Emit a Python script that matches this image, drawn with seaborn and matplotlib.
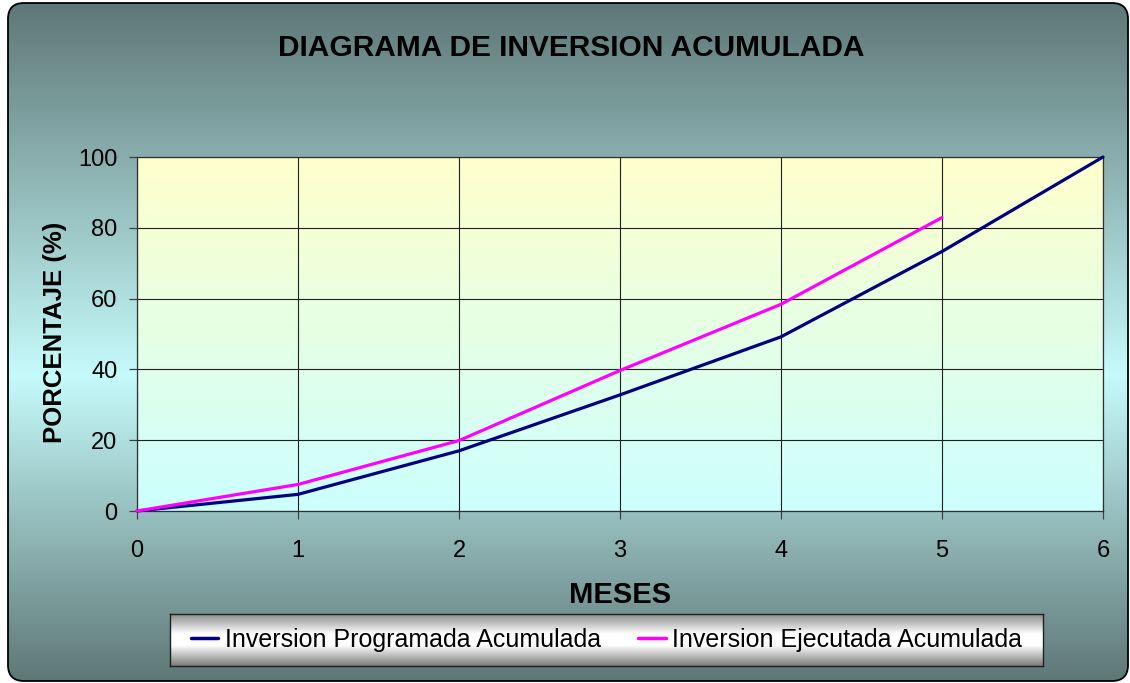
import matplotlib
matplotlib.use("Agg")
import matplotlib.pyplot as plt
import numpy as np
import pandas as pd
import seaborn as sns
from matplotlib.colors import LinearSegmentedColormap
from matplotlib.patches import FancyBboxPatch

# Datos
MESES = [0, 1, 2, 3, 4, 5, 6]
PROGRAMADA = [0.0, 4.7, 17.0, 32.8, 49.2, 73.3, 100.0]
EJECUTADA = [0.0, 7.5, 19.9, 39.7, 58.4, 82.9]

SERIE_PROG = "Inversion Programada Acumulada"
SERIE_EJEC = "Inversion Ejecutada Acumulada"
COLORES = {SERIE_PROG: "#000080", SERIE_EJEC: "#ff00ff"}

TITULO = "DIAGRAMA DE INVERSION ACUMULADA"
X_LABEL = "MESES"
Y_LABEL = "PORCENTAJE (%)"

W, H = 1130, 683

sns.set_style("white")
plt.rcParams["font.family"] = ["Liberation Sans", "DejaVu Sans"]
plt.rcParams["text.color"] = "black"
plt.rcParams["axes.labelcolor"] = "black"

df = pd.concat([
    pd.DataFrame({"mes": MESES, "pct": PROGRAMADA, "serie": SERIE_PROG}),
    pd.DataFrame({"mes": MESES[:len(EJECUTADA)], "pct": EJECUTADA, "serie": SERIE_EJEC}),
], ignore_index=True)

fig = plt.figure(figsize=(W / 100, H / 100), dpi=100)
fig.patch.set_facecolor("white")

# --- fondo degradado con borde redondeado ---
bg = fig.add_axes([0, 0, 1, 1], zorder=-10)
bg.set_xlim(0, W)
bg.set_ylim(H, 0)
bg.axis("off")
cmap_bg = LinearSegmentedColormap.from_list(
    "bg", [(0.0, "#5e7676"), (0.55, "#c6fbfb"), (1.0, "#5e7676")])
grad = np.linspace(0, 1, 256).reshape(-1, 1)
img = bg.imshow(grad, cmap=cmap_bg, extent=(0, W, H, 0), aspect="auto",
                interpolation="bilinear")
marco = FancyBboxPatch((8, 3), 1120, 678, boxstyle="round,pad=0,rounding_size=16",
                       facecolor="none", edgecolor="black", linewidth=1.3)
bg.add_patch(marco)
img.set_clip_path(marco)

# --- área de trazado (amarillo arriba, celeste abajo) ---
ax = fig.add_axes([137 / W, 1 - 511 / H, 966 / W, 354 / H])
ax.patch.set_alpha(0)
cmap_area = LinearSegmentedColormap.from_list("area", ["#ffffcc", "#ccffff"])
ax.imshow(grad, cmap=cmap_area, extent=(0, 6, 0, 100), origin="upper",
          aspect="auto", interpolation="bilinear", zorder=0)

sns.lineplot(data=df, x="mes", y="pct", hue="serie", palette=COLORES,
             linewidth=2.3, ax=ax, legend=True, zorder=3)
for ln in ax.get_lines():
    ln.set_clip_on(False)

ax.set_xlim(0, 6)
ax.set_ylim(0, 100)
ax.set_xticks(MESES)
ax.set_yticks([0, 20, 40, 60, 80, 100])
ax.grid(True, color="#202020", linewidth=0.8)
for s in ax.spines.values():
    s.set_visible(True)
    s.set_color("#303030")
    s.set_linewidth(0.9)
ax.tick_params(axis="both", direction="out", length=6, width=0.9, color="#404040",
               labelsize=17, labelcolor="black")
ax.tick_params(axis="x", pad=15)
ax.tick_params(axis="y", pad=8)
ax.tick_params(bottom=True, left=True)

ax.set_xlabel(X_LABEL, fontsize=21, fontweight="bold")
ax.xaxis.label.set_verticalalignment("baseline")
ax.xaxis.set_label_coords(0.5, -0.259)
ax.set_ylabel(Y_LABEL, fontsize=18.5, fontweight="bold")
ax.yaxis.label.set_verticalalignment("baseline")
ax.yaxis.set_label_coords(-0.0776, 0.505)

fig.text(571 / W, 1 - 56 / H, TITULO, ha="center", va="baseline",
         fontsize=21.5, fontweight="bold")

# --- leyenda con degradado gris ---
handles, labels = ax.get_legend_handles_labels()
ax.get_legend().remove()
lax = fig.add_axes([170 / W, 1 - 666 / H, 873 / W, 52 / H])
cmap_leg = LinearSegmentedColormap.from_list(
    "leg", [(0.0, "#8a8a8a"), (0.38, "#ffffff"), (0.6, "#ffffff"), (1.0, "#7a7a7a")])
lax.imshow(grad, cmap=cmap_leg, extent=(0, 1, 1, 0), aspect="auto",
           interpolation="bilinear")
lax.set_xticks([])
lax.set_yticks([])
for s in lax.spines.values():
    s.set_visible(True)
    s.set_color("#202020")
    s.set_linewidth(1)
leg = lax.legend(handles, labels, loc="center", ncol=2, frameon=False,
                 fontsize=18, handlelength=1.1, handletextpad=0.25,
                 columnspacing=1.5)
for h in leg.get_lines():
    h.set_linewidth(2.5)

fig.savefig("out.png", dpi=100)
